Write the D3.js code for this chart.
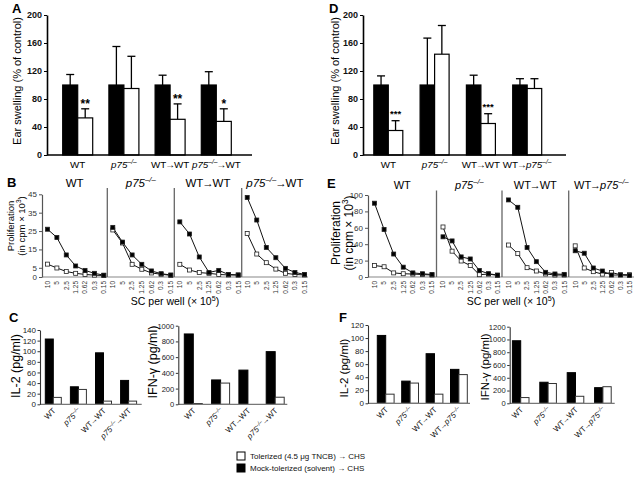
<!DOCTYPE html>
<html><head><meta charset="utf-8">
<script src="https://cdn.jsdelivr.net/npm/d3@7"></script>
<style>body{margin:0;background:#fff}svg{display:block;font-family:"Liberation Sans",Arial,Helvetica,sans-serif}</style>
</head><body><svg id="c" width="637" height="479"></svg>
<script>
// ---------------- DATA ----------------
const groupsLeft = ["WT", "{i:p75}{s:–/–}", "WT→WT", "{i:p75}{s:–/–}→WT"];
const groupsRight = ["WT", "{i:p75}{s:–/–}", "WT→WT", "WT→{i:p75}{s:–/–}"];

// Panel A: ear swelling (% of control)
const swellA_mock = [100, 100, 100, 100];
const swellA_mockErr = [15, 55, 14, 19];
const swellA_tol = [53, 95, 51, 48];
const swellA_tolErr = [13, 46, 22, 18];
const swellA_stars = ["**", "", "**", "*"];
// Panel D
const swellD_mock = [100, 100, 100, 100];
const swellD_mockErr = [13, 67, 14, 9];
const swellD_tol = [35, 144, 45, 95];
const swellD_tolErr = [14, 41, 14, 14];
const swellD_stars = ["***", "", "***", ""];
const swellTicks = [0, 40, 80, 120, 160, 200];

// Panels B / E: proliferation (cpm x 10^3)
const doses = ["10", "5", "2.5", "1.25", "0.62", "0.3", "0.15"];
const profB_filled = [
  [26, 21.5, 12, 6, 3.6, 2, 1],
  [27, 19, 12, 6.9, 3.3, 1.8, 1.1],
  [30, 23.4, 10.9, 2.5, 3.6, 1.4, 1.1],
  [43.3, 31, 16.1, 10.5, 4.7, 2.5, 1.4]
];
const profB_open = [
  [7, 4.9, 3, 2, 1.4, 1, 0.8],
  [25.6, 18.5, 6.9, 4.2, 2.2, 1.5, 0.9],
  [6.9, 3.8, 2.4, 2, 1.4, 1.1, 1.1],
  [23.7, 12.5, 7.8, 4.3, 2, 1.4, 1.1]
];
const profB_ticks = [0, 5, 15, 25, 35, 45];
const profE_filled = [
  [90, 58, 28, 12, 5, 4, 3],
  [49, 44, 24.5, 22, 8, 4, 2.4],
  [94, 85, 36, 18.7, 5.7, 3.7, 3.2],
  [32, 29, 11, 7.3, 2.4, 2.4, 2]
];
const profE_open = [
  [14, 12.5, 5, 4, 3.6, 3, 2.4],
  [61, 31.5, 19.5, 14, 2.8, 3.6, 2],
  [39, 28.5, 11.4, 7.3, 3.7, 2.4, 2.4],
  [38, 11, 6.5, 3.5, 5.5, 2.8, 2.8]
];
const profE_ticks = [0, 20, 40, 60, 80, 100];

// Panels C / F: cytokines
const il2C_mock = [123, 33, 97, 45];
const il2C_tol = [13, 28, 6, 6];
const ifnC_mock = [895, 310, 435, 670];
const ifnC_tol = [10, 270, 0, 90];
const il2F_mock = [104, 34, 76, 52];
const il2F_tol = [14, 31, 14, 44];
const ifnF_mock = [980, 330, 480, 245];
const ifnF_tol = [90, 310, 110, 260];
const il2C_ticks = [0, 20, 40, 60, 80, 100, 120, 140];
const ifnC_ticks = [0, 200, 400, 600, 800, 1000];
const il2F_ticks = [0, 20, 40, 60, 80, 100, 120];
const ifnF_ticks = [0, 200, 400, 600, 800, 1000, 1200];

const legendItems = ["Tolerized (4.5 μg TNCB) → CHS", "Mock-tolerized (solvent) → CHS"];

// ---------------- HELPERS ----------------
const svg = d3.select("#c");
svg.append("rect").attr("width", 637).attr("height", 479).attr("fill", "#fff");
const fmt = d3.format("d");

function rich(t, str, fs) {
  const re = /\{(i|s|u):([^}]*)\}|→/g;
  let last = 0, m, shift = 0;
  const parts = [];
  while ((m = re.exec(str))) {
    if (m.index > last) parts.push({ t: str.slice(last, m.index) });
    if (m[0] === "→") parts.push({ t: "→", k: "a" });
    else parts.push({ t: m[2], k: m[1] });
    last = re.lastIndex;
  }
  if (last < str.length) parts.push({ t: str.slice(last) });
  let pendDx = 0;
  parts.forEach(p => {
    const ts = t.append("tspan").text(p.t);
    if (pendDx) { ts.attr("dx", pendDx); pendDx = 0; }
    if (p.k === "i") ts.attr("font-style", "italic");
    if (p.k === "a") { ts.attr("dx", -fs * 0.1); pendDx = -fs * 0.1; }
    if (p.k === "s" || p.k === "u") {
      if (p.k === "s") ts.attr("font-style", "italic");
      ts.attr("font-size", fs * 0.68).attr("dy", -fs * 0.4);
      shift = fs * 0.4;
    } else if (shift) { ts.attr("dy", shift); shift = 0; }
  });
  return t;
}
function letter(ch, x, y, fs) {
  svg.append("text").attr("x", x).attr("y", y).attr("font-size", fs).attr("font-weight", "bold").text(ch);
}
function vlabel(str, x, y, fs) {
  const t = svg.append("text").attr("transform", `translate(${x},${y}) rotate(-90)`)
    .attr("text-anchor", "middle").attr("font-size", fs);
  rich(t, str, fs);
}
function bandX(cats, c0, step, bw) {
  const p = 1 - 2 * bw / step;
  return d3.scaleBand().domain(cats).range([c0 - step / 2, c0 - step / 2 + cats.length * step])
    .paddingInner(p).paddingOuter(p / 2);
}

// ---------------- SWELLING (A, D) ----------------
function swelling(cfg) {
  const y = d3.scaleLinear().domain([0, 200]).range([cfg.y0, cfg.yTop]);
  const x = bandX(cfg.cats, cfg.c0, cfg.step, cfg.bw);
  const g = svg.append("g");
  const bw = x.bandwidth() / 2;
  cfg.cats.forEach((c, i) => {
    const series = [
      { v: cfg.mock[i], e: cfg.mockErr[i], x0: x(c), fill: "#000" },
      { v: cfg.tol[i], e: cfg.tolErr[i], x0: x(c) + bw, fill: "#fff" }
    ];
    series.forEach(s => {
      const cx = s.x0 + bw / 2;
      g.append("line").attr("x1", cx).attr("x2", cx).attr("y1", y(s.v)).attr("y2", y(s.v + s.e))
        .attr("stroke", "#000").attr("stroke-width", 1.3);
      g.append("line").attr("x1", cx - 4).attr("x2", cx + 4).attr("y1", y(s.v + s.e)).attr("y2", y(s.v + s.e))
        .attr("stroke", "#000").attr("stroke-width", 1.3);
      g.append("rect").attr("x", s.x0).attr("y", y(s.v)).attr("width", bw).attr("height", y(0) - y(s.v))
        .attr("fill", s.fill).attr("stroke", "#000").attr("stroke-width", 1.2);
    });
    if (cfg.stars[i]) {
      g.append("text").attr("x", x(c) + bw * 1.5).attr("y", y(cfg.tol[i] + cfg.tolErr[i]) - cfg.starOff)
        .attr("text-anchor", "middle").attr("font-size", cfg.starFs).attr("font-weight", "bold").text(cfg.stars[i]);
    }
    const t = g.append("text").attr("x", x(c) + bw).attr("y", cfg.y0 + 13).attr("text-anchor", "middle").attr("font-size", 9.8);
    rich(t, c, 9.8);
  });
  const ax = g.append("g").attr("transform", `translate(${cfg.ax},0)`)
    .call(d3.axisLeft(y).tickValues(swellTicks).tickFormat(fmt).tickSize(3).tickSizeOuter(0).tickPadding(2));
  ax.select(".domain").attr("stroke-width", 1.6);
  ax.selectAll("text").attr("font-size", 9).attr("font-weight", "bold").attr("font-family", null).attr("fill", "#111");
  g.append("line").attr("x1", cfg.ax).attr("x2", cfg.axEnd).attr("y1", cfg.y0).attr("y2", cfg.y0)
    .attr("stroke", "#000").attr("stroke-width", 1.6);
  vlabel("Ear swelling (% of control)", cfg.ylx, 81, 11);
}
swelling({ cats: groupsLeft, mock: swellA_mock, mockErr: swellA_mockErr, tol: swellA_tol, tolErr: swellA_tolErr,
  stars: swellA_stars, ax: 47, axEnd: 252, y0: 155, yTop: 15, c0: 77.7, step: 46.2, bw: 15, ylx: 21, starOff: 1, starFs: 12 });
swelling({ cats: groupsRight, mock: swellD_mock, mockErr: swellD_mockErr, tol: swellD_tol, tolErr: swellD_tolErr,
  stars: swellD_stars, ax: 363, axEnd: 566, y0: 155, yTop: 15, c0: 388.3, step: 46.3, bw: 14.5, ylx: 338.5, starOff: 4, starFs: 9.5 });
letter("A", 12, 13, 13);
letter("D", 329, 13, 13);

// ---------------- PROLIFERATION (B, E) ----------------
function prolif(cfg) {
  const y = d3.scaleLinear().domain([0, cfg.ymax]).range([cfg.y0, cfg.yTop]);
  const g = svg.append("g");
  const b = cfg.bounds;
  g.append("line").attr("x1", b[0][0]).attr("x2", b[b.length - 1][1]).attr("y1", cfg.y0).attr("y2", cfg.y0)
    .attr("stroke", "#888").attr("stroke-width", 1.2);
  cfg.titles.forEach((title, i) => {
    const [x0, x1] = b[i];
    const x = d3.scalePoint().domain(doses).range([x0 + cfg.inL, x1 - cfg.inR]);
    if (i > 0) g.append("line").attr("x1", x0).attr("x2", x0).attr("y1", cfg.divTop).attr("y2", cfg.y0)
      .attr("stroke", "#666").attr("stroke-width", 1.3);
    const t = g.append("text").attr("x", (x0 + x1) / 2).attr("y", cfg.titleY).attr("text-anchor", "middle").attr("font-size", cfg.titleFs);
    rich(t, title, cfg.titleFs);
    doses.forEach(d => {
      g.append("text").attr("transform", `translate(${x(d) + 2.3},${cfg.y0 + 4}) rotate(-90)`)
        .attr("text-anchor", "end").attr("font-size", 6.5).attr("fill", "#333").text(d);
    });
    const line = d3.line().x((v, j) => x(doses[j])).y(v => y(v));
    [cfg.open[i], cfg.filled[i]].forEach(vals => {
      g.append("path").attr("d", line(vals)).attr("fill", "none").attr("stroke", "#111").attr("stroke-width", 1);
    });
    [[cfg.open[i], "#fff"], [cfg.filled[i], "#000"]].forEach(([vals, fill]) => {
      g.selectAll(null).data(vals).enter().append("rect")
        .attr("x", (v, j) => x(doses[j]) - 2).attr("y", v => y(v) - 2).attr("width", 4).attr("height", 4)
        .attr("fill", fill).attr("stroke", "#222").attr("stroke-width", 0.8);
    });
  });
  const ax = g.append("g").attr("transform", `translate(${b[0][0]},0)`)
    .call(d3.axisLeft(y).tickValues(cfg.ticks).tickFormat(fmt).tickSize(3).tickSizeOuter(0).tickPadding(2));
  ax.select(".domain").attr("stroke", "#555").attr("stroke-width", 1.2);
  ax.selectAll("line").attr("stroke", "#555");
  ax.selectAll("text").attr("font-size", 8).attr("font-family", null).attr("fill", "#333");
  const t = g.append("text").attr("x", cfg.xlx).attr("y", cfg.xly).attr("text-anchor", "middle").attr("font-size", 10.5);
  rich(t, "SC per well (× 10{u:5})", 10.5);
  vlabel("Proliferation", cfg.yl1, cfg.ylc, cfg.ylFs);
  vlabel("(in cpm × 10{u:3})", cfg.yl2, cfg.ylc, cfg.ylFs);
}
prolif({ titles: groupsLeft, filled: profB_filled, open: profB_open, ticks: profB_ticks, ymax: 45,
  y0: 277, yTop: 194.3, bounds: [[42, 107.3], [107.3, 174.3], [174.3, 241.7], [241.7, 308]],
  inL: 5.5, inR: 3.5, divTop: 188, titleY: 187, titleFs: 11.5, xlx: 175, xly: 305,
  yl1: 14, yl2: 25, ylc: 226, ylFs: 9.5 });
prolif({ titles: groupsRight, filled: profE_filled, open: profE_open, ticks: profE_ticks, ymax: 100,
  y0: 277, yTop: 195, bounds: [[368, 436.5], [436.5, 502], [502, 568.7], [568.7, 634]],
  inL: 6.5, inR: 4.5, divTop: 190.5, titleY: 188.5, titleFs: 11, xlx: 511, xly: 305,
  yl1: 340, yl2: 353, ylc: 233, ylFs: 12 });
letter("B", 7, 187, 13);
letter("E", 327, 188, 13);

// ---------------- CYTOKINES (C, F) ----------------
function cyto(cfg) {
  const y = d3.scaleLinear().domain([0, cfg.ymax]).range([cfg.y0, cfg.yTop]);
  const x = bandX(cfg.cats, cfg.c0, cfg.step, cfg.bw);
  const g = svg.append("g");
  const bw = x.bandwidth() / 2;
  cfg.cats.forEach((c, i) => {
    [[cfg.mock[i], x(c), "#000"], [cfg.tol[i], x(c) + bw, "#fff"]].forEach(([v, x0, fill]) => {
      if (v > 0) g.append("rect").attr("x", x0).attr("y", y(v)).attr("width", bw).attr("height", y(0) - y(v))
        .attr("fill", fill).attr("stroke", fill === "#000" ? "#000" : "#333").attr("stroke-width", 1);
    });
    const t = g.append("text").attr("transform", `translate(${x(c) + bw + 3},${cfg.y0 + 7}) rotate(-45)`)
      .attr("text-anchor", "end").attr("font-size", 8).attr("fill", "#111");
    rich(t, c, 8);
  });
  g.append("line").attr("x1", cfg.ax).attr("x2", cfg.axEnd).attr("y1", cfg.y0).attr("y2", cfg.y0)
    .attr("stroke", "#777").attr("stroke-width", 1.3);
  const ax = g.append("g").attr("transform", `translate(${cfg.ax},0)`)
    .call(d3.axisLeft(y).tickValues(cfg.ticks).tickFormat(fmt).tickSize(2.5).tickSizeOuter(0).tickPadding(1.5));
  ax.select(".domain").attr("stroke", "#333").attr("stroke-width", 1.1);
  ax.selectAll("line").attr("stroke", "#333");
  ax.selectAll("text").attr("font-size", cfg.tickFs).attr("font-family", null).attr("fill", "#222");
  vlabel(cfg.label, cfg.ylx, cfg.ylc, cfg.ylFs);
}
cyto({ cats: groupsLeft, mock: il2C_mock, tol: il2C_tol, ticks: il2C_ticks, ymax: 140, y0: 404.3, yTop: 330,
  ax: 40, axEnd: 141.7, c0: 53.3, step: 25.1, bw: 8, label: "IL-2 (pg/ml)", ylx: 20, ylc: 366, ylFs: 12.5, tickFs: 8 });
cyto({ cats: groupsLeft, mock: ifnC_mock, tol: ifnC_tol, ticks: ifnC_ticks, ymax: 1000, y0: 404.3, yTop: 325.7,
  ax: 178.3, axEnd: 287.3, c0: 193.3, step: 27.3, bw: 9, label: "IFN-γ (pg/ml)", ylx: 157, ylc: 362, ylFs: 12.5, tickFs: 7.6 });
cyto({ cats: groupsRight, mock: il2F_mock, tol: il2F_tol, ticks: il2F_ticks, ymax: 120, y0: 403.3, yTop: 325,
  ax: 368, axEnd: 470, c0: 385.7, step: 24.4, bw: 8.4, label: "IL-2 (pg/ml)", ylx: 348, ylc: 368, ylFs: 11.5, tickFs: 8 });
cyto({ cats: groupsRight, mock: ifnF_mock, tol: ifnF_tol, ticks: ifnF_ticks, ymax: 1200, y0: 403.3, yTop: 326.7,
  ax: 509.7, axEnd: 614.7, c0: 520.7, step: 27.4, bw: 8.3, label: "IFN-γ (pg/ml)", ylx: 489, ylc: 367, ylFs: 11.5, tickFs: 7.6 });
letter("C", 9, 322, 13);
letter("F", 339, 322, 13);

// ---------------- LEGEND ----------------
legendItems.forEach((txt, i) => {
  const yy = 452 + i * 12;
  svg.append("rect").attr("x", 237).attr("y", yy).attr("width", 8).attr("height", 8)
    .attr("fill", i === 0 ? "#fff" : "#000").attr("stroke", "#000").attr("stroke-width", 1);
  svg.append("text").attr("x", 250).attr("y", yy + 7).attr("font-size", 8).attr("fill", "#111").text(txt);
});
</script>
</body></html>
